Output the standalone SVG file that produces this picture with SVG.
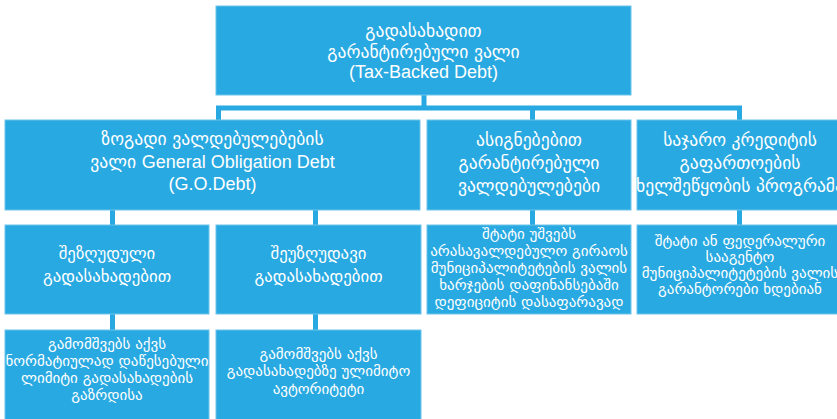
<svg xmlns="http://www.w3.org/2000/svg" width="837" height="419" viewBox="0 0 837 419">
<style>
.box{fill:#29a9e1;stroke:#6cc4ec;stroke-width:1}
.t{fill:#ffffff;font-family:"DejaVu Sans","Liberation Sans",sans-serif;text-anchor:middle}
.big{font-size:17.6px}
.mid{font-size:16.8px}
.sm{font-size:15px}
.lat{font-family:"Liberation Sans",Arial,sans-serif;font-size:18px}
.con{stroke:#29a9e1;stroke-width:5;fill:none}
</style>
<rect width="837" height="419" fill="#ffffff"/>
<g id="connectors">
<path class="con" d="M424,95 V108 M216,108 H742 M218.5,108 V120 M532.5,108 V120 M739.5,108 V120"/>
<path class="con" d="M112.5,210 V225 M315.5,210 V225 M532.5,210 V225 M739.5,210 V225"/>
<path class="con" d="M112.5,314 V330 M315.5,314 V330"/>
</g>
<g id="root">
<rect class="box" x="216" y="6" width="415" height="89"/>
<text class="t big" x="423.5" y="37">გადასახადით</text>
<text class="t big" x="423.5" y="58">გარანტირებული ვალი</text>
<text class="t lat" x="423.5" y="78">(Tax-Backed Debt)</text>
</g>
<g id="go-debt">
<rect class="box" x="5" y="120" width="415" height="90"/>
<text class="t big" x="212.5" y="145">ზოგადი ვალდებულებების</text>
<text class="t big" x="212.5" y="168">ვალი <tspan class="lat"> General Obligation Debt</tspan></text>
<text class="t lat" x="212.5" y="190">(G.O.Debt)</text>
</g>
<g id="assigned">
<rect class="box" x="427" y="120" width="204" height="90"/>
<text class="t big" x="529" y="146">ასიგნებებით</text>
<text class="t big" x="529" y="169">გარანტირებული</text>
<text class="t big" x="529" y="192">ვალდებულებები</text>
</g>
<g id="credit-program">
<rect class="box" x="637" y="120" width="206" height="90"/>
<text class="t big" x="740" y="146">საჯარო კრედიტის</text>
<text class="t big" x="740" y="169">გაფართოების</text>
<text class="t big" x="740" y="192">ხელშეწყობის პროგრამა</text>
</g>
<g id="limited">
<rect class="box" x="5" y="225" width="204" height="89"/>
<text class="t mid" x="107" y="259">შეზღუდული</text>
<text class="t mid" x="107" y="282">გადასახადებით</text>
</g>
<g id="unlimited">
<rect class="box" x="216" y="225" width="205" height="89"/>
<text class="t mid" x="318.5" y="259">შეუზღუდავი</text>
<text class="t mid" x="318.5" y="282">გადასახადებით</text>
</g>
<g id="assigned-desc">
<rect class="box" x="427" y="225" width="204" height="89"/>
<text class="t sm" x="529" y="239">შტატი უშვებს</text>
<text class="t sm" x="529" y="256">არასავალდებულო გირაოს</text>
<text class="t sm" x="529" y="273">მუნიციპალიტეტების ვალის</text>
<text class="t sm" x="529" y="290">ხარჯების დაფინანსებაში</text>
<text class="t sm" x="529" y="307">დეფიციტის დასაფარავად</text>
</g>
<g id="credit-desc">
<rect class="box" x="637" y="225" width="206" height="89"/>
<text class="t sm" x="740" y="246">შტატი ან ფედერალური</text>
<text class="t sm" x="740" y="262">სააგენტო</text>
<text class="t sm" x="740" y="278">მუნიციპალიტეტების ვალის</text>
<text class="t sm" x="740" y="294">გარანტორები ხდებიან</text>
</g>
<g id="limited-desc">
<rect class="box" x="5" y="330" width="204" height="95"/>
<text class="t sm" x="107" y="349">გამომშვებს აქვს</text>
<text class="t sm" x="107" y="366">ნორმატიულად დაწესებული</text>
<text class="t sm" x="107" y="383">ლიმიტი გადასახადების</text>
<text class="t sm" x="107" y="400">გაზრდისა</text>
</g>
<g id="unlimited-desc">
<rect class="box" x="216" y="330" width="205" height="95"/>
<text class="t sm" x="318.5" y="359">გამომშვებს აქვს</text>
<text class="t sm" x="318.5" y="376">გადასახადებზე ულიმიტო</text>
<text class="t sm" x="318.5" y="394">ავტორიტეტი</text>
</g>
</svg>
